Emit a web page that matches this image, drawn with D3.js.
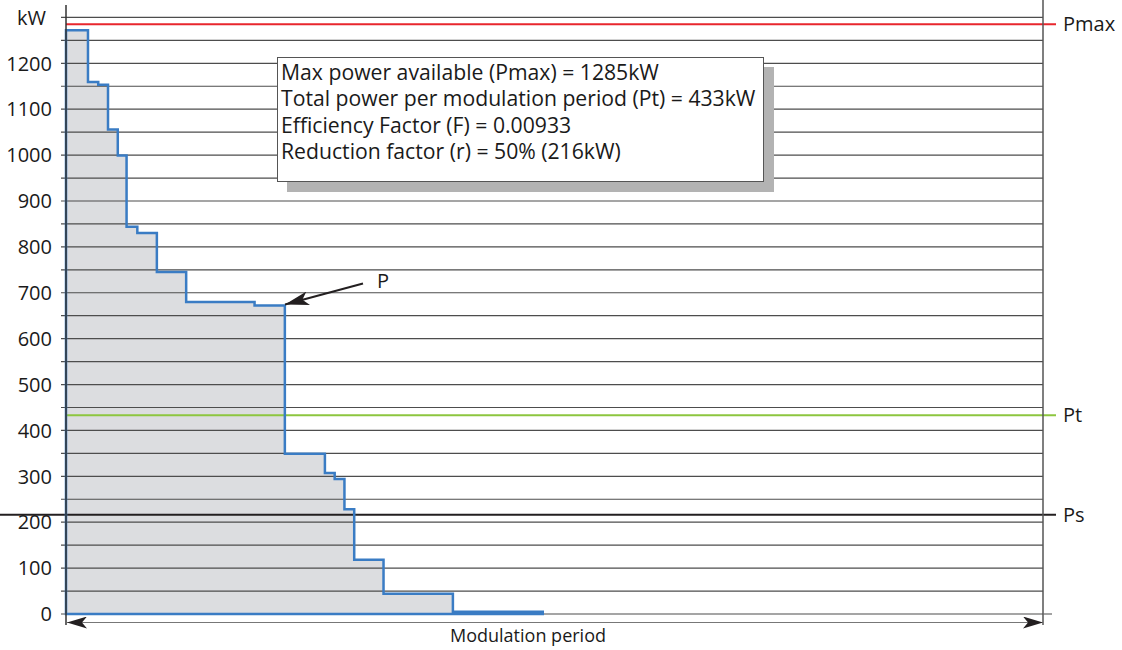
<!DOCTYPE html>
<html lang="en">
<meta charset="UTF-8">
<title>Modulation period power</title>
<style>
body { margin: 0; background: #fff; }
.tick-label { font-family: "Open Sans", sans-serif; font-size: 20px; fill: #1a1a1a; }
.note { font-family: "Open Sans", sans-serif; font-size: 21.2px; fill: #1a1a1a; }
.grid line { stroke: #4d4d4d; stroke-width: 1.2; }
</style>
<body>
<script src="https://d3js.org/d3.v7.min.js"></script>
<script>
// step profile of the power demand across one modulation period
var stepEdges = [0, 2.25, 3.3, 4.3, 5.3, 6.2, 7.3, 9.3, 12.3, 19.3, 22.4, 26.5, 27.5, 28.5, 29.5, 32.5, 39.6, 48.8]
var stepPower = [1272, 1159, 1153, 1056, 999, 844, 830, 745, 680, 672, 349, 307, 294, 228, 118, 44, 5]

var yTickLabels = [0, 100, 200, 300, 400, 500, 600, 700, 800, 900, 1000, 1100, 1200]
var gridValues = [0, 50, 100, 150, 200, 250, 300, 350, 400, 450, 500, 550, 600, 650,
  700, 750, 800, 850, 900, 950, 1000, 1050, 1100, 1150, 1200, 1250, 1300]

var refNames = ["Pmax", "Pt", "Ps"]
var refValues = [1285, 433, 216]
var refColors = ["#e8262d", "#8dc63f", "#231f20"]

var notes = [
  "Max power available (Pmax) = 1285kW",
  "Total power per modulation period (Pt) = 433kW",
  "Efficiency Factor (F) = 0.00933",
  "Reduction factor (r) = 50% (216kW)"
]

var W = 1122, H = 650
var x0 = 66, x1 = 1043

var svg = d3.select("body").append("svg")
  .attr("width", W)
  .attr("height", H)

var defs = svg.append("defs")
defs.append("marker")
  .attr("id", "head")
  .attr("viewBox", "0 0 20 12")
  .attr("refX", 20).attr("refY", 6)
  .attr("markerWidth", 20).attr("markerHeight", 12)
  .attr("markerUnits", "userSpaceOnUse")
  .attr("orient", "auto-start-reverse")
  .append("path")
  .attr("d", "M0,0 L20,6 L0,12 L5,6 Z")
  .attr("fill", "#231f20")
defs.append("marker")
  .attr("id", "pHead")
  .attr("viewBox", "0 0 24 14")
  .attr("refX", 24).attr("refY", 7)
  .attr("markerWidth", 24).attr("markerHeight", 14)
  .attr("markerUnits", "userSpaceOnUse")
  .attr("orient", "auto")
  .append("path")
  .attr("d", "M0,0 L24,7 L0,14 L6,7 Z")
  .attr("fill", "#231f20")

var x = d3.scaleLinear().domain([0, 100]).range([x0, x1])
var y = d3.scaleLinear().domain([0, 1200]).range([614, 63.3])

// build the step outline as a closed shape
var pts = [[0, 0]]
stepPower.forEach(function(p, i) {
  pts.push([stepEdges[i], p])
  pts.push([stepEdges[i + 1], p])
})
pts.push([stepEdges[stepEdges.length - 1], 0])

var line = d3.line()
  .x(function(d) { return x(d[0]) })
  .y(function(d) { return y(d[1]) })

svg.append("path")
  .attr("d", line(pts) + "Z")
  .attr("fill", "#dcdde0")

// gridlines every 50 kW
svg.append("g")
  .attr("class", "grid")
  .selectAll("line")
  .data(gridValues)
  .enter()
  .append("line")
  .attr("x1", x0 - 5)
  .attr("x2", x1)
  .attr("y1", function(d) { return y(d) })
  .attr("y2", function(d) { return y(d) })

// tick labels
svg.append("g")
  .selectAll("text")
  .data(yTickLabels)
  .enter()
  .append("text")
  .attr("class", "tick-label")
  .attr("x", 52)
  .attr("y", function(d) { return y(d) })
  .attr("dy", "0.36em")
  .attr("text-anchor", "end")
  .text(function(d) { return d })

svg.append("text")
  .attr("class", "tick-label")
  .attr("x", 46)
  .attr("y", 25)
  .attr("text-anchor", "end")
  .text("kW")

// reference lines
refValues.forEach(function(v, i) {
  svg.append("line")
    .attr("x1", i == 2 ? 0 : x0)
    .attr("x2", 1056)
    .attr("y1", y(v))
    .attr("y2", y(v))
    .attr("stroke", refColors[i])
    .attr("stroke-width", 2)
  svg.append("text")
    .attr("class", "tick-label")
    .attr("x", 1063)
    .attr("y", y(v))
    .attr("dy", "0.36em")
    .text(refNames[i])
})

// blue outline on top
svg.append("path")
  .attr("d", line(pts) + "Z")
  .attr("fill", "none")
  .attr("stroke", "#3a7cc4")
  .attr("stroke-width", 2.5)
  .attr("stroke-linejoin", "miter")

// axes frame
svg.append("line")
  .attr("x1", x0).attr("x2", x0)
  .attr("y1", 5).attr("y2", 625)
  .attr("stroke", "#333").attr("stroke-width", 1.5)
svg.append("line")
  .attr("x1", x1).attr("x2", x1)
  .attr("y1", 0).attr("y2", 625)
  .attr("stroke", "#555").attr("stroke-width", 1.5)
svg.append("line")
  .attr("x1", x1).attr("x2", 1052)
  .attr("y1", y(0)).attr("y2", y(0))
  .attr("stroke", "#666").attr("stroke-width", 1.2)

// modulation period arrow
svg.append("line")
  .attr("x1", x0 + 1).attr("x2", x1)
  .attr("y1", 622.5).attr("y2", 622.5)
  .attr("stroke", "#777").attr("stroke-width", 1.2)
  .attr("marker-start", "url(#head)")
  .attr("marker-end", "url(#head)")

svg.append("text")
  .attr("class", "note")
  .attr("x", 528)
  .attr("y", 642)
  .attr("text-anchor", "middle")
  .style("font-size", "18px")
  .text("Modulation period")

// P annotation
svg.append("line")
  .attr("x1", 363).attr("y1", 283.5)
  .attr("x2", 285).attr("y2", 304.5)
  .attr("stroke", "#231f20").attr("stroke-width", 2)
  .attr("marker-end", "url(#pHead)")
svg.append("text")
  .attr("class", "tick-label")
  .attr("x", 377)
  .attr("y", 288)
  .text("P")

// info box with shadow
svg.append("rect")
  .attr("x", 287).attr("y", 67)
  .attr("width", 487).attr("height", 125)
  .attr("fill", "#b3b3b3")
svg.append("rect")
  .attr("x", 277.5).attr("y", 57.5)
  .attr("width", 486).attr("height", 124)
  .attr("fill", "#fff")
  .attr("stroke", "#555")
svg.append("g")
  .selectAll("text")
  .data(notes)
  .enter()
  .append("text")
  .attr("class", "note")
  .attr("x", 281)
  .attr("y", function(d, i) { return 80 + i * 26.3 })
  .text(function(d) { return d })
</script>
</body>
</html>
